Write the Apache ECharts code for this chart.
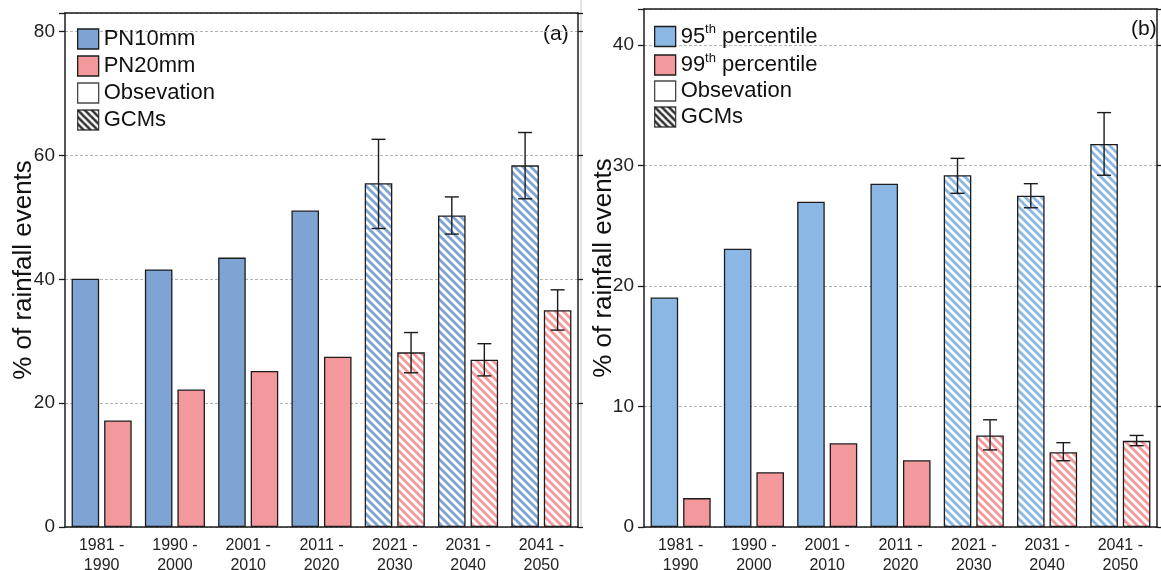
<!DOCTYPE html>
<html>
<head>
<meta charset="utf-8">
<script src="https://cdn.jsdelivr.net/npm/echarts@6/dist/echarts.min.js"></script>
<style>
html,body{margin:0;padding:0;background:#fff}
#main{width:1161px;height:570px}
</style>
</head>
<body>
<div id="main"></div>
<script>
// 时段（2021 起为 GCM 预估）
var periods = ['1981 -\n1990', '1990 -\n2000', '2001 -\n2010', '2011 -\n2020', '2021 -\n2030', '2031 -\n2040', '2041 -\n2050'];
var gcmFrom = 4;

// (a) PN10mm / PN20mm
var pn10   = [40.1, 41.6, 43.5, 51.1, 55.5, 50.3, 58.4];
var pn10Lo = [null, null, null, null, 48.2, 47.3, 53.0];
var pn10Hi = [null, null, null, null, 62.6, 53.3, 63.7];
var pn20   = [17.2, 22.2, 25.2, 27.5, 28.2, 27.0, 35.0];
var pn20Lo = [null, null, null, null, 24.9, 24.4, 31.8];
var pn20Hi = [null, null, null, null, 31.4, 29.6, 38.3];

// (b) 95th / 99th percentile
var p95   = [19.05, 23.1, 27.0, 28.5, 29.2, 27.5, 31.8];
var p95Lo = [null, null, null, null, 27.7, 26.5, 29.2];
var p95Hi = [null, null, null, null, 30.6, 28.5, 34.4];
var p99   = [2.4, 4.55, 6.95, 5.55, 7.6, 6.2, 7.15];
var p99Lo = [null, null, null, null, 6.4, 5.5, 6.75];
var p99Hi = [null, null, null, null, 8.9, 7.0, 7.6];

// y 轴刻度
var ticksA = [0, 20, 40, 60, 80];
var ticksB = [0, 10, 20, 30, 40];

var BLUE_A = '#7ea4d4', BLUE_B = '#8bb7e5', RED = '#f4999b', EDGE = '#1c1c1c';
var CAT_GAP = 0.18, BAR_GAP = 0.18;
var FONT = "'Liberation Sans', Arial, sans-serif";

// 斜线填充
function hatch(bg, fg, size, lw){
  var c = document.createElement('canvas');
  c.width = size; c.height = size;
  var ctx = c.getContext('2d');
  ctx.fillStyle = bg; ctx.fillRect(0, 0, size, size);
  ctx.strokeStyle = fg; ctx.lineWidth = lw;
  for (var k = -1; k <= 1; k++) {
    ctx.beginPath();
    ctx.moveTo(k * size - 1, -1);
    ctx.lineTo(k * size + size + 1, size + 1);
    ctx.stroke();
  }
  return {image: c, repeat: 'repeat'};
}

function barData(vals, color){
  var pat = hatch(color, '#ffffff', 8, 2.8);
  return vals.map(function(v, i){
    return i >= gcmFrom ? {value: v, itemStyle: {color: pat}} : v;
  });
}

function barSeries(name, g, vals, color){
  return {
    name: name, type: 'bar', xAxisIndex: g * 2, yAxisIndex: g * 2,
    barCategoryGap: (CAT_GAP * 100) + '%', barGap: (BAR_GAP * 100) + '%',
    itemStyle: {color: color, borderColor: EDGE, borderWidth: 1.3},
    data: barData(vals, color), z: 2
  };
}

function errSeries(g, side, lo, hi){
  var d = [];
  lo.forEach(function(v, i){ if (v != null) d.push([i, v, hi[i]]); });
  return {
    type: 'custom', xAxisIndex: g * 2, yAxisIndex: g * 2, silent: true, z: 5,
    encode: {x: 0, y: [1, 2]},
    data: d,
    renderItem: function(params, api){
      var band = api.size([1, 0])[0];
      var w = band * (1 - CAT_GAP) / (2 + BAR_GAP);
      var x = api.coord([api.value(0), 0])[0] + side * w * (1 + BAR_GAP) / 2;
      var y1 = api.coord([api.value(0), api.value(2)])[1];
      var y2 = api.coord([api.value(0), api.value(1)])[1];
      var cap = 7, st = {stroke: '#1a1a1a', lineWidth: 1.4};
      return {type: 'group', children: [
        {type: 'line', shape: {x1: x, y1: y1, x2: x, y2: y2}, style: st},
        {type: 'line', shape: {x1: x - cap, y1: y1, x2: x + cap, y2: y1}, style: st},
        {type: 'line', shape: {x1: x - cap, y1: y2, x2: x + cap, y2: y2}, style: st}
      ]};
    }
  };
}

function xAxes(g){
  var line = {show: true, onZero: false, lineStyle: {color: EDGE, width: 1.5}};
  return [{
    type: 'category', gridIndex: g, data: periods, position: 'bottom',
    axisLine: line, axisTick: {alignWithLabel: true, length: 5, lineStyle: {color: EDGE, width: 1.3}},
    axisLabel: {fontSize: 16, fontFamily: FONT, color: '#222', lineHeight: 20, margin: 9, interval: 0}
  }, {
    type: 'category', gridIndex: g, data: periods, position: 'top',
    axisLine: line, axisTick: {inside: true, alignWithLabel: true, length: 5, lineStyle: {color: EDGE, width: 1.3}},
    axisLabel: {show: false}
  }];
}

function yAxes(g, ticks, max, gap){
  var step = ticks[1] - ticks[0];
  var line = {show: true, onZero: false, lineStyle: {color: EDGE, width: 1.5}};
  return [{
    type: 'value', gridIndex: g, min: ticks[0], max: max, interval: step, position: 'left',
    name: '% of rainfall events', nameLocation: 'middle', nameGap: gap, nameMoveOverlap: false,
    nameTextStyle: {fontSize: 26, fontFamily: FONT, color: '#111'},
    axisLine: line, axisTick: {show: true, length: 6, lineStyle: {color: EDGE, width: 1.3}},
    axisLabel: {fontSize: 19, fontFamily: FONT, color: '#222', margin: 10,
      formatter: function(v){ return ticks.indexOf(v) >= 0 ? v : ''; }},
    splitLine: {show: true, lineStyle: {color: '#b4b4b4', width: 1, type: [3, 2]}}
  }, {
    type: 'value', gridIndex: g, min: ticks[0], max: max, interval: step, position: 'right',
    axisLine: line, axisTick: {show: true, length: 5, lineStyle: {color: EDGE, width: 1.3}},
    axisLabel: {show: false}, splitLine: {show: false}
  }];
}

function legendItems(names, blue){
  var b = {borderColor: EDGE, borderWidth: 1.3};
  return [
    {name: names[0], icon: 'rect', itemStyle: Object.assign({color: blue}, b)},
    {name: names[1], icon: 'rect', itemStyle: Object.assign({color: RED}, b)},
    {name: 'Obsevation', icon: 'rect', itemStyle: Object.assign({color: '#fff'}, b)},
    {name: 'GCMs', icon: 'rect', itemStyle: Object.assign({color: hatch('#fff', '#000', 7, 2.6)}, b)}
  ];
}

var chart = echarts.init(document.getElementById('main'), null, {renderer: 'canvas'});

var option = {
  animation: false,
  backgroundColor: '#fff',
  grid: [
    {left: 65, top: 13, width: 513, height: 514, outerBoundsMode: 'none'},
    {left: 644, top: 9, width: 513, height: 518, outerBoundsMode: 'none'}
  ],
  xAxis: xAxes(0).concat(xAxes(1)),
  yAxis: yAxes(0, ticksA, 83, 28).concat(yAxes(1, ticksB, 43, 27)),
  legend: [{
    orient: 'vertical', left: 72, top: 23, itemWidth: 21, itemHeight: 20, itemGap: 5,
    selectedMode: false, textStyle: {fontSize: 22, fontFamily: FONT, color: '#111'},
    data: legendItems(['PN10mm', 'PN20mm'], BLUE_A)
  }, {
    orient: 'vertical', left: 649, top: 18, itemWidth: 21, itemHeight: 20, itemGap: 4,
    selectedMode: false,
    formatter: function(name){
      var m = name.match(/^(\d+)th (.*)$/);
      return m ? '{n|' + m[1] + '}{s|th}{n| ' + m[2] + '}' : name;
    },
    textStyle: {fontSize: 22, fontFamily: FONT, color: '#111',
      rich: {n: {fontSize: 22, fontFamily: FONT, color: '#111'},
             s: {fontSize: 13, fontFamily: FONT, color: '#111', verticalAlign: 'top', padding: [0, 0, 14, 0]}}},
    data: legendItems(['95th percentile', '99th percentile'], BLUE_B)
  }],
  graphic: [
    {type: 'text', left: 543, top: 24, style: {text: '(a)', fontSize: 21, fontFamily: FONT, fill: '#111'}},
    {type: 'text', left: 1131, top: 19, style: {text: '(b)', fontSize: 21, fontFamily: FONT, fill: '#111'}},
    {type: 'line', shape: {x1: 581, y1: 0, x2: 581, y2: 528}, style: {stroke: '#c8c8c8', lineWidth: 1}}
  ],
  series: [
    barSeries('PN10mm', 0, pn10, BLUE_A),
    barSeries('PN20mm', 0, pn20, RED),
    errSeries(0, -1, pn10Lo, pn10Hi),
    errSeries(0, 1, pn20Lo, pn20Hi),
    barSeries('95th percentile', 1, p95, BLUE_B),
    barSeries('99th percentile', 1, p99, RED),
    errSeries(1, -1, p95Lo, p95Hi),
    errSeries(1, 1, p99Lo, p99Hi),
    {name: 'Obsevation', type: 'scatter', xAxisIndex: 0, yAxisIndex: 0, data: []},
    {name: 'GCMs', type: 'scatter', xAxisIndex: 0, yAxisIndex: 0, data: []}
  ]
};

chart.setOption(option);
</script>
</body>
</html>
